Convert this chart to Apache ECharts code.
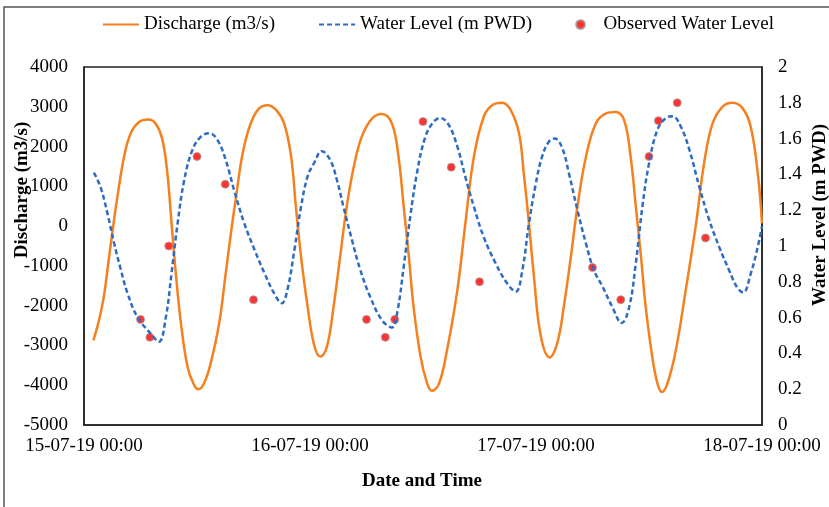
<!DOCTYPE html>
<html>
<head>
<meta charset="utf-8">
<title>Discharge and Water Level</title>
<script src="https://cdn.jsdelivr.net/npm/echarts@6/dist/echarts.min.js"></script>
<style>
  html, body { margin: 0; padding: 0; background: #fff; }
  #main { width: 829px; height: 507px; }
</style>
</head>
<body>
<div id="main"></div>
<script>
// x values are hours after 15-07-19 00:00
var dayLabels = ['15-07-19 00:00', '16-07-19 00:00', '17-07-19 00:00', '18-07-19 00:00'];

// discharge (m3/s), [hour, value]
var discharge = [
  [1.0,-2870],[1.6,-2360],[2.1,-1780],[2.6,-900],[3.1,0],[3.55,740],[4.25,1740],[4.95,2330],
  [5.85,2620],[6.85,2680],[7.6,2580],[8.3,2200],[8.85,1330],[9.3,70],[9.75,-1190],[10.3,-2450],
  [11.0,-3540],[11.7,-4000],[12.15,-4100],[12.75,-3950],[13.45,-3450],[14.35,-2450],[15.05,-1190],
  [15.6,-180],[16.15,740],[16.85,1830],[17.7,2580],[18.6,2960],[19.5,3040],[20.4,2920],[21.25,2580],
  [22.0,1740],[22.5,490],[23.05,-770],[23.75,-2030],[24.45,-3000],[25.1,-3280],[25.8,-3030],
  [26.5,-2030],[27.2,-770],[27.9,490],[28.65,1490],[29.5,2250],[30.6,2710],[31.65,2820],[32.7,2580],
  [33.4,1740],[33.95,490],[34.5,-770],[35.0,-2030],[35.75,-3290],[36.45,-3960],[36.95,-4140],
  [37.7,-3960],[38.55,-3120],[39.65,-1610],[40.5,70],[41.4,1740],[42.45,2750],[43.35,3040],
  [44.4,3100],[45.3,2920],[46.2,2330],[46.7,1330],[47.25,70],[47.75,-1190],[48.5,-2750],
  [49.45,-3300],[50.25,-2950],[50.95,-2030],[51.7,-770],[52.4,490],[53.3,1740],[54.35,2580],
  [55.4,2830],[56.45,2870],[57.35,2670],[58.05,1740],[58.6,490],[59.15,-770],[59.65,-2030],
  [60.35,-3290],[60.9,-3960],[61.35,-4170],[61.95,-3960],[62.85,-3120],[63.9,-1610],[65.0,70],
  [65.85,1580],[66.75,2580],[67.8,3000],[68.85,3100],[69.95,2960],[70.8,2500],[71.55,1330],[72.0,70]
];

// simulated water level (m PWD), [hour, value]
var waterLevel = [
  [1.05,1.41],[1.75,1.33],[2.5,1.18],[3.2,1.015],[3.9,0.87],[4.6,0.74],[5.65,0.605],[7.1,0.51],
  [7.95,0.465],[8.7,0.605],[9.3,0.85],[9.95,1.13],[10.65,1.37],[11.5,1.535],[12.4,1.61],[13.3,1.63],
  [14.2,1.59],[15.05,1.48],[15.95,1.31],[17.0,1.13],[18.1,0.98],[19.15,0.85],[20.2,0.735],[21.0,0.68],
  [21.6,0.755],[22.35,0.98],[23.05,1.22],[23.75,1.39],[24.4,1.46],[25.25,1.53],[26.15,1.48],
  [26.85,1.37],[27.55,1.22],[28.45,1.035],[29.35,0.865],[30.4,0.715],[31.65,0.585],[32.7,0.545],
  [33.3,0.64],[33.95,0.885],[34.65,1.165],[35.35,1.405],[36.25,1.61],[37.15,1.695],[37.85,1.715],
  [38.75,1.675],[39.65,1.555],[40.5,1.385],[41.4,1.22],[42.45,1.05],[43.7,0.905],[44.95,0.79],
  [45.85,0.745],[46.55,0.865],[47.25,1.125],[47.95,1.34],[48.65,1.5],[49.4,1.585],[50.0,1.6],
  [50.8,1.545],[51.5,1.405],[52.4,1.2],[53.3,1.015],[54.15,0.865],[55.05,0.775],[56.1,0.66],
  [57.1,0.57],[57.9,0.66],[58.6,0.905],[59.3,1.22],[60.0,1.46],[60.9,1.65],[61.8,1.715],[62.5,1.725],
  [63.4,1.665],[64.3,1.535],[65.35,1.33],[66.4,1.145],[67.45,0.995],[68.5,0.865],[69.4,0.765],
  [70.0,0.74],[70.8,0.845],[71.55,0.995],[72.0,1.11]
];

// observed water level
var obsHours = [6, 7, 9, 12, 15, 18, 30, 32, 33, 36, 39, 42, 54, 57, 60, 61, 63, 66];
var obsLevels = [0.59, 0.49, 1.0, 1.5, 1.345, 0.7, 0.59, 0.49, 0.59, 1.695, 1.44, 0.8, 0.88, 0.7, 1.5, 1.7, 1.8, 1.045];

var observed = [];
for (var i = 0; i < obsHours.length; i++) {
  observed.push([obsHours[i], obsLevels[i]]);
}

var font = 'Liberation Serif, Times New Roman, serif';
var chart = echarts.init(document.getElementById('main'));

var option = {
  animation: false,
  backgroundColor: '#fff',
  textStyle: { fontFamily: font, color: '#000' },
  legend: {
    left: 97,
    top: 10,
    itemWidth: 36,
    itemHeight: 9,
    itemGap: 43,
    textStyle: { fontFamily: font, fontSize: 19, color: '#000' },
    data: [
      { name: 'Discharge (m3/s)', itemStyle: { opacity: 0 } },
      { name: 'Water Level (m PWD)', itemStyle: { opacity: 0 } },
      { name: 'Observed Water Level' }
    ]
  },
  grid: {
    left: 84, right: 67, top: 67, bottom: 82,
    show: true, borderColor: '#222', borderWidth: 1.5
  },
  xAxis: {
    type: 'value',
    min: 0, max: 72, interval: 24,
    axisLine: { show: true, onZero: false, lineStyle: { color: '#222', width: 1.5 } },
    axisTick: { show: false },
    splitLine: { show: false },
    axisLabel: {
      margin: 12, fontFamily: font, fontSize: 19, color: '#000',
      showMinLabel: true, showMaxLabel: true,
      formatter: function (v) { return dayLabels[Math.round(v / 24)]; }
    }
  },
  yAxis: [
    {
      type: 'value',
      min: -5000, max: 4000, interval: 1000,
      axisLine: { show: true, lineStyle: { color: '#222', width: 1.5 } },
      axisTick: { show: false },
      splitLine: { show: false },
      axisLabel: {
        margin: 16, fontFamily: font, fontSize: 19, color: '#000',
        formatter: function (v) { return String(v); }
      }
    },
    {
      type: 'value',
      min: 0, max: 2, interval: 0.2,
      axisLine: { show: true, lineStyle: { color: '#222', width: 1.5 } },
      axisTick: { show: false },
      splitLine: { show: false },
      axisLabel: { margin: 16, fontFamily: font, fontSize: 19, color: '#000' }
    }
  ],
  graphic: [
    {
      type: 'polyline',
      shape: { points: [[4, 507], [4, 7], [829, 7]] },
      style: { stroke: '#555', lineWidth: 1.5, fill: null }
    },
    {
      type: 'text', x: 22, y: 190, rotation: Math.PI / 2,
      style: { text: 'Discharge (m3/s)', font: 'bold 19px ' + font, fill: '#000', align: 'center', verticalAlign: 'middle' }
    },
    {
      type: 'text', x: 820, y: 215, rotation: Math.PI / 2,
      style: { text: 'Water Level (m PWD)', font: 'bold 19px ' + font, fill: '#000', align: 'center', verticalAlign: 'middle' }
    },
    {
      type: 'text', x: 422, y: 481,
      style: { text: 'Date and Time', font: 'bold 19px ' + font, fill: '#000', align: 'center', verticalAlign: 'middle' }
    }
  ],
  series: [
    {
      name: 'Discharge (m3/s)',
      type: 'line',
      yAxisIndex: 0,
      data: discharge,
      symbol: 'none',
      smooth: 0.4,
      lineStyle: { color: '#F5801F', width: 2.5 },
      itemStyle: { color: '#F5801F' }
    },
    {
      name: 'Water Level (m PWD)',
      type: 'line',
      yAxisIndex: 1,
      data: waterLevel,
      symbol: 'none',
      smooth: 0.4,
      lineStyle: { color: '#2E6CC4', width: 2.5, type: [5, 3] },
      itemStyle: { color: '#2E6CC4' }
    },
    {
      name: 'Observed Water Level',
      type: 'scatter',
      yAxisIndex: 1,
      data: observed,
      symbol: 'circle',
      symbolSize: 8,
      itemStyle: { color: '#FF0000', borderColor: '#A0A0A0', borderWidth: 1 }
    }
  ]
};

chart.setOption(option);
</script>
</body>
</html>
